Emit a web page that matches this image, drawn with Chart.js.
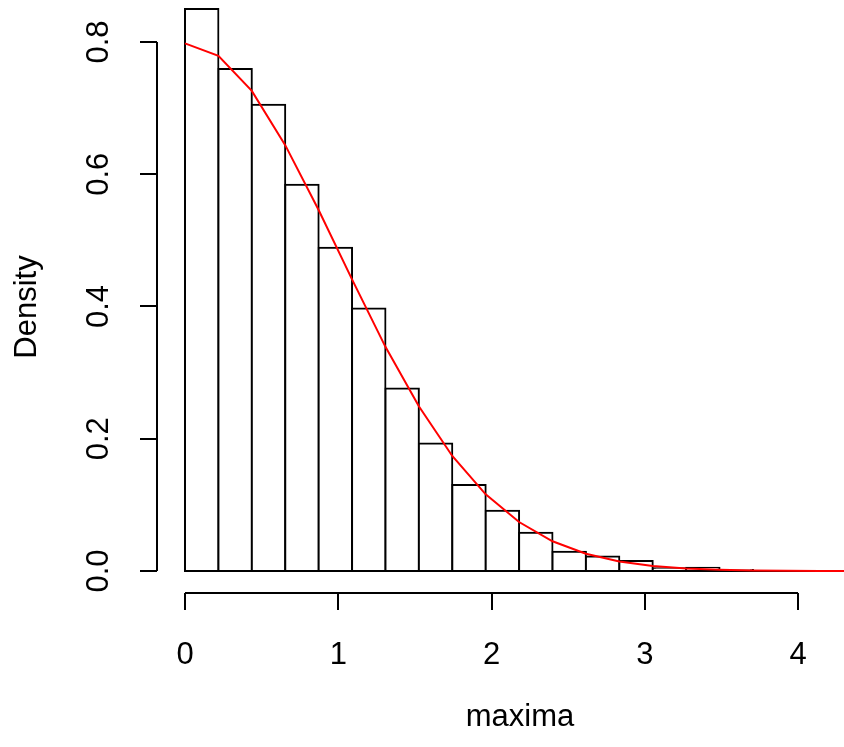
<!DOCTYPE html>
<html>
<head>
<meta charset="utf-8">
<script src="https://cdn.jsdelivr.net/npm/chart.js@4/dist/chart.umd.min.js"></script>
<style>
  html, body { margin: 0; padding: 0; background: #ffffff; }
  #wrap { width: 844px; height: 747px; position: relative; }
</style>
</head>
<body>
<div id="wrap"><canvas id="hist" width="844" height="747"></canvas></div>
<script>
// Histogram breaks (bin edges) of the sample maxima
const breaks = [0, 0.218, 0.436, 0.654, 0.872, 1.09, 1.308, 1.526, 1.744, 1.962, 2.18,
                2.398, 2.616, 2.834, 3.052, 3.27, 3.488, 3.706, 3.924, 4.142, 4.36, 4.578];
// Density of each bin
const densities = [0.850, 0.759, 0.705, 0.584, 0.489, 0.397, 0.276, 0.193, 0.130, 0.091,
                   0.058, 0.029, 0.022, 0.015, 0.004, 0.005, 0.0015, 0, 0, 0, 0];
// Reference density curve, evaluated at the breaks
const curveValues = [0.798, 0.779, 0.726, 0.644, 0.546, 0.441, 0.339, 0.249, 0.174, 0.116,
                     0.0741, 0.0450, 0.0261, 0.0144, 0.0076, 0.0038, 0.0018, 0.0008, 0.0004,
                     0.00015, 0.00006, 0.00002];
// Axis ticks and labels
const xTicks = [0, 1, 2, 3, 4];
const xTickLabels = ['0', '1', '2', '3', '4'];
const yTicks = [0, 0.2, 0.4, 0.6, 0.8];
const yTickLabels = ['0.0', '0.2', '0.4', '0.6', '0.8'];
const xTitle = 'maxima';
const yTitle = 'Density';

const FONT = '31px "Liberation Sans", Arial, Helvetica, sans-serif';

const barData = densities.map((d, i) => ({ x: (breaks[i] + breaks[i + 1]) / 2, y: d }));
const curveData = breaks.map((b, i) => ({ x: b, y: curveValues[i] }));

// Base-graphics style axes: detached lines spanning first..last tick
const baseAxes = {
  id: 'baseAxes',
  afterDatasetDraw(chart, args) {
    // baseline under the bins, drawn before the curve
    if (args.index !== 0) return;
    const { ctx, scales: { x, y }, chartArea } = chart;
    ctx.save();
    ctx.beginPath();
    ctx.rect(chartArea.left, chartArea.top, chartArea.right - chartArea.left, chartArea.bottom - chartArea.top);
    ctx.clip();
    ctx.strokeStyle = '#000';
    ctx.lineWidth = 2;
    ctx.beginPath();
    const y0 = Math.round(y.getPixelForValue(0));
    ctx.moveTo(x.getPixelForValue(breaks[0]) - 1, y0);
    ctx.lineTo(x.getPixelForValue(breaks[breaks.length - 1]) + 1, y0);
    ctx.stroke();
    ctx.restore();
  },
  afterDraw(chart) {
    const { ctx, scales: { x, y }, chartArea } = chart;
    ctx.save();
    ctx.strokeStyle = '#000';
    ctx.fillStyle = '#000';
    ctx.lineWidth = 2;
    ctx.font = FONT;
    const tickLen = 17;

    // x axis
    const ax = chartArea.bottom;
    ctx.beginPath();
    ctx.moveTo(x.getPixelForValue(xTicks[0]), ax);
    ctx.lineTo(x.getPixelForValue(xTicks[xTicks.length - 1]), ax);
    xTicks.forEach(v => {
      const px = Math.round(x.getPixelForValue(v));
      ctx.moveTo(px, ax);
      ctx.lineTo(px, ax + tickLen);
    });
    ctx.stroke();
    ctx.textAlign = 'center';
    ctx.textBaseline = 'middle';
    xTicks.forEach((v, i) => {
      ctx.fillText(xTickLabels[i], x.getPixelForValue(v), 655);
    });
    ctx.fillText(xTitle, (chartArea.left + 883) / 2, 717);

    // y axis
    const ay = chartArea.left;
    ctx.beginPath();
    ctx.moveTo(ay, y.getPixelForValue(yTicks[0]));
    ctx.lineTo(ay, y.getPixelForValue(yTicks[yTicks.length - 1]));
    yTicks.forEach(v => {
      const py = Math.round(y.getPixelForValue(v));
      ctx.moveTo(ay, py);
      ctx.lineTo(ay - tickLen, py);
    });
    ctx.stroke();
    yTicks.forEach((v, i) => {
      ctx.save();
      ctx.translate(99, y.getPixelForValue(v));
      ctx.rotate(-Math.PI / 2);
      ctx.fillText(yTickLabels[i], 0, 0);
      ctx.restore();
    });
    ctx.save();
    ctx.translate(27, 307);
    ctx.rotate(-Math.PI / 2);
    ctx.fillText(yTitle, 0, 0);
    ctx.restore();
    ctx.restore();
  }
};

new Chart(document.getElementById('hist'), {
  type: 'bar',
  data: {
    datasets: [
      {
        type: 'bar',
        data: barData,
        backgroundColor: '#ffffff',
        borderColor: '#000000',
        borderWidth: 2,
        borderSkipped: false,
        inflateAmount: 1,
        barPercentage: 1,
        categoryPercentage: 1,
        order: 2
      },
      {
        type: 'line',
        data: curveData,
        borderColor: '#ff0000',
        borderWidth: 2,
        pointRadius: 0,
        tension: 0,
        fill: false,
        order: 1
      }
    ]
  },
  options: {
    responsive: false,
    animation: false,
    events: [],
    layout: { padding: { left: 157, right: 0, top: 0, bottom: 154 } },
    plugins: { legend: { display: false }, tooltip: { enabled: false }, title: { display: false } },
    scales: {
      x: {
        type: 'linear',
        min: -0.1827,
        max: 4.3001,
        display: false,
        offset: false,
        ticks: { stepSize: 1, includeBounds: false }
      },
      y: {
        type: 'linear',
        min: -0.03327,
        max: 0.8635,
        display: false,
        ticks: { stepSize: 0.2, includeBounds: false }
      }
    }
  },
  plugins: [baseAxes]
});
</script>
</body>
</html>
